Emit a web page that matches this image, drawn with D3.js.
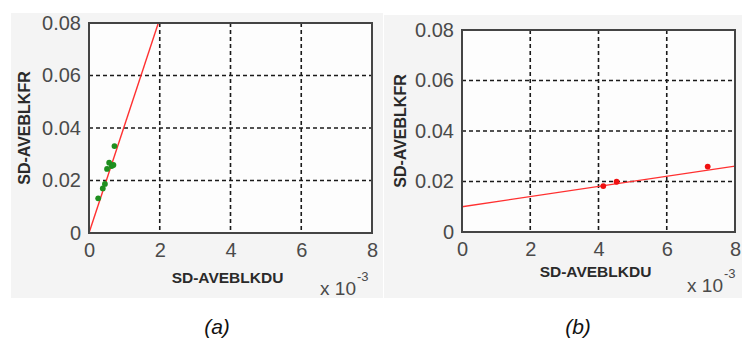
<!DOCTYPE html>
<html>
<head>
<meta charset="utf-8">
<script src="https://cdn.jsdelivr.net/npm/d3@7"></script>
<style>
  body { margin: 0; background: #fff; }
  svg { display: block; font-family: "Liberation Sans", Arial, sans-serif; }
</style>
</head>
<body>
<svg id="chart" width="742" height="345"></svg>
<script>
// axis ticks (x values in units of 1e-3)
const xTicks = [0, 2, 4, 6, 8];
const xTickLabels = ['0', '2', '4', '6', '8'];
const yTicks = [0, 0.02, 0.04, 0.06, 0.08];
const yTickLabels = ['0', '0.02', '0.04', '0.06', '0.08'];

// panel (a) samples and fitted line
const aDU = [0.26, 0.39, 0.45, 0.51, 0.57, 0.64, 0.69, 0.72];
const aFR = [0.0132, 0.0170, 0.0187, 0.0244, 0.0268, 0.0255, 0.0259, 0.0331];
const aFitDU = [0, 1.96];
const aFitFR = [0, 0.08];

// panel (b) samples and fitted line
const bDU = [4.14, 4.53, 7.20];
const bFR = [0.0182, 0.0199, 0.0259];
const bFitDU = [0, 8];
const bFitFR = [0.0100, 0.0261];

const svg = d3.select('#chart');

const panels = [
  {
    id: 'a', caption: '(a)', captionX: 217,
    bg: { x: 11, y: 13, w: 372, h: 285 },
    left: 89, top: 23, width: 283, height: 210,
    du: aDU, fr: aFR, fitDU: aFitDU, fitFR: aFitFR, dot: '#1f8f1f',
    xLabelY: 283, yLabelX: 30, expRight: 356, expY: 295
  },
  {
    id: 'b', caption: '(b)', captionX: 578,
    bg: { x: 384, y: 15, w: 358, h: 283 },
    left: 462, top: 30, width: 273, height: 202,
    du: bDU, fr: bFR, fitDU: bFitDU, fitFR: bFitFR, dot: '#f01010',
    xLabelY: 277, yLabelX: 406, expRight: 723, expY: 292
  }
];

const drawPanel = p => {
  svg.append('rect')
    .attr('x', p.bg.x).attr('y', p.bg.y)
    .attr('width', p.bg.w).attr('height', p.bg.h)
    .attr('fill', '#f4f4f4');

  const xScale = d3.scaleLinear().domain([0, 8]).range([0, p.width]);
  const yScale = d3.scaleLinear().domain([0, 0.08]).range([p.height, 0]);

  const g = svg.append('g')
    .attr('transform', 'translate(' + p.left + ',' + p.top + ')');

  g.append('rect')
    .attr('width', p.width).attr('height', p.height)
    .attr('fill', '#fdfdfd');

  // dashed grid
  const inner = (arr) => arr.slice(1, -1);
  g.append('g')
    .attr('class', 'grid')
    .selectAll('line.v')
    .data(inner(xTicks))
    .enter()
    .append('line')
    .attr('x1', d => xScale(d)).attr('x2', d => xScale(d))
    .attr('y1', 0).attr('y2', p.height);
  g.select('.grid')
    .selectAll('line.h')
    .data(inner(yTicks))
    .enter()
    .append('line')
    .attr('class', 'h')
    .attr('x1', 0).attr('x2', p.width)
    .attr('y1', d => yScale(d)).attr('y2', d => yScale(d));
  g.selectAll('.grid line')
    .attr('stroke', '#1a1a1a')
    .attr('stroke-width', 1.6)
    .attr('stroke-dasharray', '4,3');

  // fitted line
  const clipId = 'clip-' + p.id;
  g.append('clipPath').attr('id', clipId)
    .append('rect').attr('width', p.width).attr('height', p.height);
  const fit = p.fitDU.map((d, i) => [d, p.fitFR[i]]);
  g.append('path')
    .datum(fit)
    .attr('clip-path', 'url(#' + clipId + ')')
    .attr('fill', 'none')
    .attr('stroke', '#ff3030')
    .attr('stroke-width', 1.4)
    .attr('d', d3.line().x(d => xScale(d[0])).y(d => yScale(d[1])));

  // samples
  g.selectAll('.dot')
    .data(p.du.map((d, i) => [d, p.fr[i]]))
    .enter()
    .append('circle')
    .attr('cx', d => xScale(d[0]))
    .attr('cy', d => yScale(d[1]))
    .attr('r', 2.9)
    .attr('fill', p.dot);

  // frame
  g.append('rect')
    .attr('width', p.width).attr('height', p.height)
    .attr('fill', 'none')
    .attr('stroke', '#444')
    .attr('stroke-width', 2);

  // tick labels
  const xAxis = g.append('g')
    .attr('transform', 'translate(0,' + p.height + ')')
    .call(d3.axisBottom(xScale).tickValues(xTicks)
      .tickFormat((d, i) => xTickLabels[i]).tickSize(0).tickPadding(10));
  const yAxis = g.append('g')
    .call(d3.axisLeft(yScale).tickValues(yTicks)
      .tickFormat((d, i) => yTickLabels[i]).tickSize(0).tickPadding(8));
  [xAxis, yAxis].forEach(a => {
    a.select('.domain').remove();
    a.selectAll('text')
      .attr('font-size', 20)
      .attr('font-family', '"Liberation Sans", Arial, sans-serif')
      .attr('fill', '#4a4a4a');
  });

  // axis titles
  svg.append('text')
    .attr('x', p.left + p.width / 2 - 3)
    .attr('y', p.xLabelY)
    .attr('text-anchor', 'middle')
    .attr('font-size', 15.5)
    .attr('font-weight', 'bold')
    .attr('fill', '#2a2a2a')
    .text('SD-AVEBLKDU');
  svg.append('text')
    .attr('transform', 'translate(' + p.yLabelX + ',' + (p.top + p.height / 2) + ') rotate(-90)')
    .attr('text-anchor', 'middle')
    .attr('font-size', 16)
    .attr('font-weight', 'bold')
    .attr('fill', '#2a2a2a')
    .text('SD-AVEBLKFR');

  // exponent
  svg.append('text')
    .attr('x', p.expRight).attr('y', p.expY)
    .attr('text-anchor', 'end')
    .attr('font-size', 19)
    .attr('fill', '#4a4a4a')
    .text('x 10');
  svg.append('text')
    .attr('x', p.expRight + 1).attr('y', p.expY - 14)
    .attr('font-size', 13)
    .attr('fill', '#4a4a4a')
    .text('-3');

  // caption
  svg.append('text')
    .attr('x', p.captionX).attr('y', 334)
    .attr('text-anchor', 'middle')
    .attr('font-size', 21)
    .attr('font-style', 'italic')
    .attr('fill', '#111')
    .text(p.caption);
};

panels.forEach(drawPanel);
</script>
</body>
</html>
